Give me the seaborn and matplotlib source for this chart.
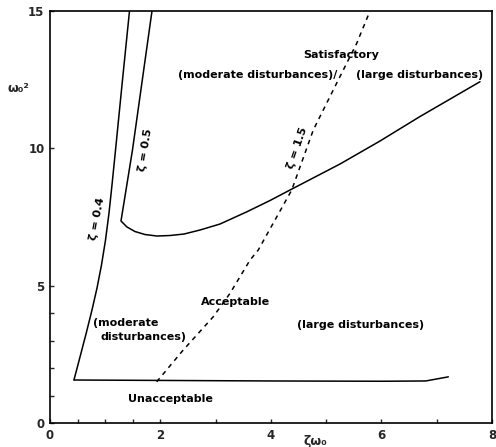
import matplotlib
matplotlib.use("Agg")
import matplotlib.pyplot as plt
import seaborn as sns
import pandas as pd

sns.set_style("ticks")
plt.rcParams['font.family'] = ['DejaVu Sans']

# zeta = 0.4 boundary
z04_x = [0.434, 0.543, 0.661, 0.760, 0.851, 0.932, 1.005, 1.068, 1.122, 1.186, 1.312, 1.439]
z04_y = [1.565, 2.403, 3.313, 4.114, 4.914, 5.752, 6.662, 7.645, 8.664, 9.938, 12.486, 15.0]

# bottom boundary (unacceptable)
bot_x = [0.434, 2.0, 4.0, 6.0, 6.8, 7.21]
bot_y = [1.565, 1.55, 1.53, 1.52, 1.53, 1.68]

# zeta = 0.5 boundary + lower satisfactory boundary
sat_x = [1.846, 1.493, 1.285, 1.394, 1.538, 1.719, 1.937, 2.172, 2.425, 2.715, 3.077,
         3.566, 3.982, 4.344, 4.796, 5.249, 5.973, 6.697, 7.783]
sat_y = [15.0, 9.94, 7.354, 7.135, 6.971, 6.862, 6.807, 6.826, 6.880, 7.026, 7.244,
         7.692, 8.100, 8.482, 8.955, 9.429, 10.266, 11.158, 12.425]

# zeta = 1.5 dashed line
z15_x = [1.931, 2.413, 2.956, 3.258, 3.62, 3.77, 4.375, 4.766, 5.218, 5.551, 5.792]
z15_y = [1.50, 2.66, 3.87, 4.72, 5.93, 6.30, 8.48, 10.67, 12.49, 13.82, 15.0]

x_ticks = [0, 2, 4, 6, 8]
y_ticks = [0, 5, 10, 15]

fig = plt.figure(figsize=(4.96, 4.47), dpi=100)
ax = fig.add_axes([0.1008, 0.0537, 0.8911, 0.9217])

lw = 1.1
for xs, ys in [(z04_x, z04_y), (bot_x, bot_y), (sat_x, sat_y)]:
    df = pd.DataFrame({'x': xs, 'y': ys})
    sns.lineplot(data=df, x='x', y='y', sort=False, estimator=None, color='black',
                 linewidth=lw, ax=ax)
df = pd.DataFrame({'x': z15_x, 'y': z15_y})
sns.lineplot(data=df, x='x', y='y', sort=False, estimator=None, color='black',
             linewidth=lw, ax=ax, linestyle=(0, (3, 3)))

ax.set_xlim(0, 8)
ax.set_ylim(0, 15)
ax.set_xticks(x_ticks)
ax.set_yticks(y_ticks)
ax.set_xticks([0.5, 1, 1.5, 3, 5, 7], minor=True)
ax.set_yticks([1, 2, 3, 4], minor=True)
ax.set_xticklabels([str(v) for v in x_ticks], fontweight='bold', fontsize=8.5)
ax.set_yticklabels([str(v) for v in y_ticks], fontweight='bold', fontsize=8.5)
ax.tick_params(direction='in', length=3, width=1, which='both', pad=4)
for s in ax.spines.values():
    s.set_linewidth(1.2)
    s.set_color('black')

ax.set_xlabel('ζω₀', fontweight='bold', fontsize=9)
ax.xaxis.set_label_coords(0.6, -0.03)
ax.set_ylabel('ω₀²', fontweight='bold', fontsize=9, rotation=0, va='center', ha='center')
ax.yaxis.set_label_coords(-0.072, 0.813)

tk = dict(fontweight='bold', fontsize=8, color='black')
ax.text(5.267, 13.4, 'Satisfactory', ha='center', va='center', **tk)
ax.text(2.317, 12.67, '(moderate disturbances)/', ha='left', va='center', **tk)
ax.text(5.53, 12.67, '(large disturbances)', ha='left', va='center', **tk)
ax.text(3.357, 4.42, 'Acceptable', ha='center', va='center', **tk)
ax.text(0.784, 3.65, '(moderate', ha='left', va='center', **tk)
ax.text(0.918, 3.12, 'disturbances)', ha='left', va='center', **tk)
ax.text(4.465, 3.57, '(large disturbances)', ha='left', va='center', **tk)
ax.text(1.417, 0.87, 'Unacceptable', ha='left', va='center', **tk)
ax.text(0.86, 7.43, 'ζ = 0.4', ha='center', va='center', rotation=79, **tk)
ax.text(1.734, 9.94, 'ζ = 0.5', ha='center', va='center', rotation=81, **tk)
ax.text(4.48, 10.0, 'ζ = 1.5', ha='center', va='center', rotation=71, **tk)

fig.savefig('out.png', dpi=100)
